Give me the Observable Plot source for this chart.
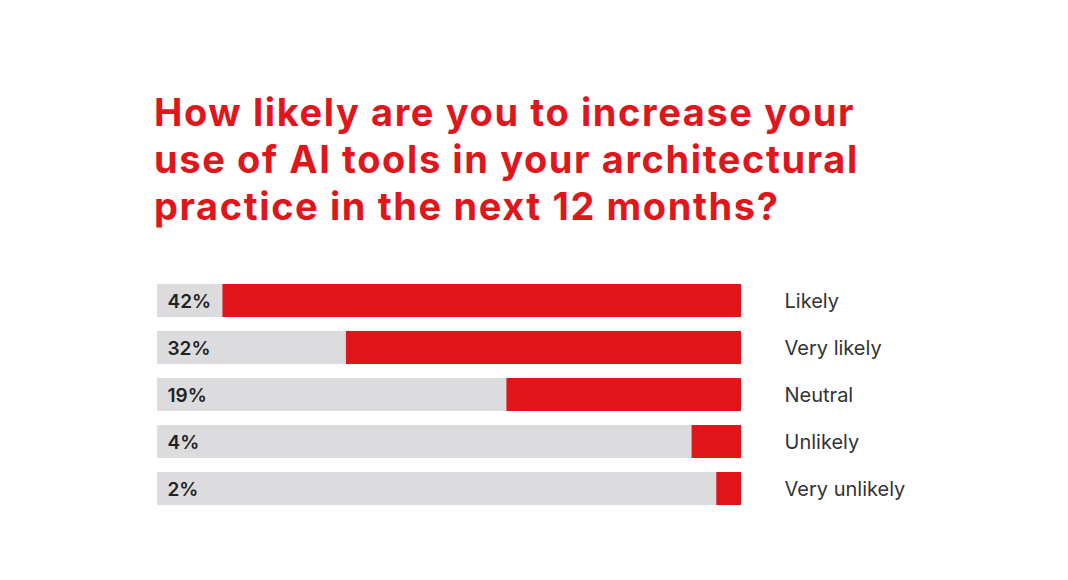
<!DOCTYPE html>
<html>
<head>
<meta charset="utf-8">
<script src="https://cdn.jsdelivr.net/npm/d3@7"></script>
<script src="https://cdn.jsdelivr.net/npm/@observablehq/plot@0.6"></script>
<style>
  html, body { margin: 0; padding: 0; background: #ffffff; }
  #wrap { width: 1068px; height: 580px; position: relative; overflow: hidden; }
  #title {
    box-sizing: border-box;
    height: 262px;
    padding: 89px 0 0 154px;
    font-family: Inter, "Open Sans", sans-serif;
    font-weight: 700;
    font-size: 38px;
    line-height: 47px;
    letter-spacing: 1.6px;
    color: #e0161d;
    margin: 0;
    white-space: nowrap;
  }
  #chart svg { display: block; }
  #chart g[aria-label="category-labels"] text { letter-spacing: 0.8px; }
</style>
</head>
<body>
<div id="wrap">
  <div id="title">How likely are you to increase your<br>use of AI tools in your architectural<br>practice in the next 12 months?</div>
  <div id="chart"></div>
</div>
<script>
const categories = ["Likely", "Very likely", "Neutral", "Unlikely", "Very unlikely"];
const values = [42, 32, 19, 4, 2];
const percentLabels = ["42%", "32%", "19%", "4%", "2%"];
const scaleMax = 47.3;

const data = categories.map((c, i) => ({category: c, value: values[i], label: percentLabels[i], max: scaleMax}));

const chart = Plot.plot({
  width: 1068,
  height: 318,
  marginLeft: 157,
  marginRight: 327,
  marginTop: 20,
  marginBottom: 73,
  style: {fontFamily: "Inter, 'Open Sans', sans-serif", background: "transparent"},
  x: {domain: [scaleMax, 0], axis: null},
  y: {domain: categories, axis: null, paddingInner: 0.29, paddingOuter: 0},
  marks: [
    Plot.barX(data, {y: "category", x1: 0, x2: "max", fill: "#dcdcde"}),
    Plot.barX(data, {y: "category", x1: 0, x2: "value", fill: "#e1161d"}),
    Plot.text(data, {y: "category", text: "label", frameAnchor: "left", dx: 10, textAnchor: "start", fontSize: 19, fontWeight: 600, fill: "#222222", dy: 1}),
    Plot.text(data, {y: "category", x: 0, text: "category", dx: 43, textAnchor: "start", fontSize: 20, fontWeight: 400, fill: "#333333", dy: 1, ariaLabel: "category-labels"})
  ]
});
document.getElementById("chart").appendChild(chart);
</script>
</body>
</html>
